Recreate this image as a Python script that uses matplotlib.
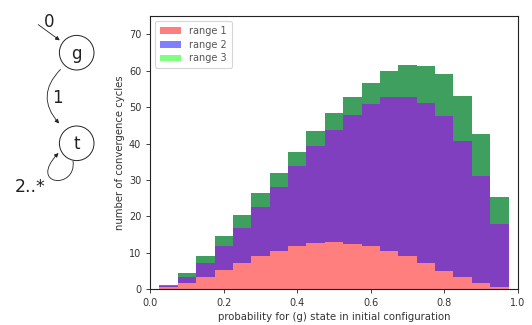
import numpy as np
import matplotlib
matplotlib.use("Agg")
import matplotlib.pyplot as plt
from matplotlib.patches import Circle, FancyArrowPatch, Patch
from matplotlib.path import Path

# ---- data ----
bin_edges = np.linspace(0.025, 0.975, 20)
range1 = [0.5, 1.6, 3.4, 5.3, 7.1, 9.1, 10.6, 11.9, 12.6, 13.0, 12.4, 11.8, 10.6, 9.1, 7.2, 5.1, 3.3, 1.7, 0.5]
range2 = [0.4, 1.7, 3.7, 6.5, 9.8, 13.6, 17.5, 22.0, 26.7, 30.8, 35.5, 39.0, 42.2, 43.6, 43.9, 42.5, 37.5, 29.4, 17.3]
range3 = [0.2, 1.3, 2.0, 2.7, 3.6, 3.6, 3.9, 3.8, 4.1, 4.6, 4.9, 5.9, 7.1, 8.8, 10.2, 11.6, 12.3, 11.4, 7.4]
labels = ["range 1", "range 2", "range 3"]
colors = ["red", "blue", "lime"]

r1 = np.array(range1)
r12 = r1 + np.array(range2)
tot = r12 + np.array(range3)

plt.rcParams['font.family'] = ['DejaVu Sans']
txt = '#333333'

fig = plt.figure(figsize=(5.32, 3.25), dpi=100)

# ---- state diagram on left (pixel coordinates) ----
dax = fig.add_axes([0, 0, 1, 1])
dax.set_xlim(0, 532)
dax.set_ylim(325, 0)
dax.axis('off')
R = 17.3
for (cx, cy, s) in [(76.7, 52.7, 'g'), (76.7, 143.3, 't')]:
    dax.add_patch(Circle((cx, cy), R, fill=False, lw=0.7, ec='#222222'))
    dax.text(cx, cy + 1, s, ha='center', va='center', fontsize=12, color='#222222')
kw = dict(arrowstyle='-|>', mutation_scale=6, lw=0.6, color='#222222')
dax.add_patch(FancyArrowPatch((36, 23), (62, 42), **kw))
dax.text(49, 22, '0', ha='center', va='center', fontsize=12, color='#222222')
dax.add_patch(FancyArrowPatch((62.5, 67.5), (61, 125.5), connectionstyle='arc3,rad=0.5', **kw))
dax.text(57, 98, '1', ha='center', va='center', fontsize=12, color='#222222')
loop = Path([(73, 161), (77, 190), (27, 186), (58.5, 153)],
            [Path.MOVETO, Path.CURVE4, Path.CURVE4, Path.CURVE4])
dax.add_patch(FancyArrowPatch(path=loop, **kw))
dax.text(30, 187.5, '2..*', ha='center', va='center', fontsize=12.5, color='#222222')

# ---- histogram ----
ax = fig.add_axes([150.3 / 532, 1 - 289.3 / 325, (517.7 - 150.3) / 532, (289.3 - 16) / 325])
ax.stairs(tot, bin_edges, baseline=0, fill=True, color=colors[0], alpha=0.5, lw=0)
ax.stairs(tot, bin_edges, baseline=r1, fill=True, color=colors[1], alpha=0.5, lw=0)
ax.stairs(tot, bin_edges, baseline=r12, fill=True, color=colors[2], alpha=0.5, lw=0)

ax.set_xlim(0, 1)
ax.set_ylim(0, 75)
ax.set_xticks([0, 0.2, 0.4, 0.6, 0.8, 1.0])
ax.set_xticklabels(['0.0', '0.2', '0.4', '0.6', '0.8', '1.0'])
ax.set_yticks(range(0, 71, 10))
ax.tick_params(labelsize=7, colors='#222222', labelcolor=txt, length=3, width=0.6)
for sp in ax.spines.values():
    sp.set_color('#222222')
    sp.set_linewidth(0.8)
ax.set_xlabel('probability for (g) state in initial configuration', fontsize=7.3, color=txt, labelpad=3)
ax.set_ylabel('number of convergence cycles', fontsize=7.3, color=txt, labelpad=3)

handles = [Patch(facecolor=c, alpha=0.5, edgecolor='none') for c in colors]
leg = ax.legend(handles, labels, loc='upper left', fontsize=7, frameon=True, fancybox=True,
                borderpad=0.5, handlelength=2.2, labelspacing=0.4)
leg.get_frame().set_edgecolor('#cccccc')
leg.get_frame().set_linewidth(0.8)
for t in leg.get_texts():
    t.set_color('#555555')

fig.savefig('out.png', dpi=100)
